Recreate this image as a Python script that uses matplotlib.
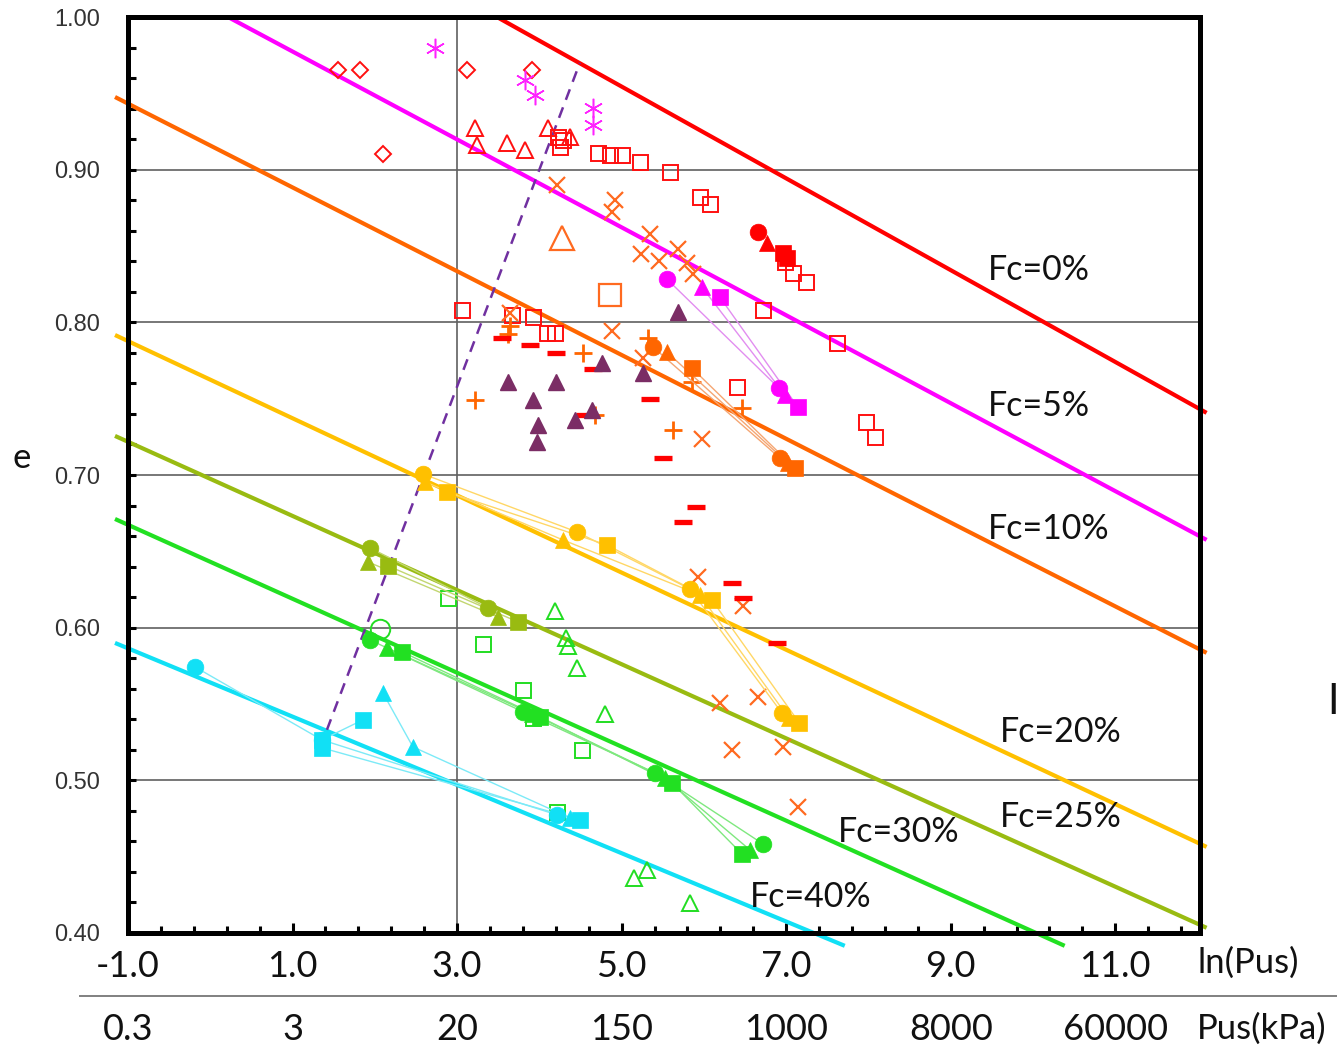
import matplotlib
matplotlib.use('Agg')
import matplotlib.pyplot as plt
from matplotlib.lines import Line2D
from matplotlib.transforms import blended_transform_factory
import numpy as np

# ---------------- data ----------------
# Fc reference lines (end points in ln(Pus), e)
fc_names = ['Fc=0%', 'Fc=5%', 'Fc=10%', 'Fc=20%', 'Fc=25%', 'Fc=30%', 'Fc=40%']
fc_colors = ['#ff0000', '#ff00ff', '#ff6600', '#ffc000', '#99bb11', '#22e022', '#11e0f5']
fc_x0 = [3.484, 0.215, -1.158, -1.158, -1.158, -1.158, -1.158]
fc_y0 = [1.000, 1.000, 0.9476, 0.7917, 0.7256, 0.6712, 0.590]
fc_x1 = [12.11, 12.11, 12.11, 12.11, 12.11, 10.385, 7.712]
fc_y1 = [0.7407, 0.6575, 0.5835, 0.4564, 0.4034, 0.3916, 0.3916]
fc_lab_x = [9.45, 9.45, 9.45, 9.595, 9.595, 7.627, 6.558]
fc_lab_y = [0.8343, 0.7453, 0.6647, 0.5318, 0.4761, 0.4663, 0.4237]

# dashed boundary line
bound_x = [1.418, 4.492]
bound_y = [0.5331, 0.9699]

# open red squares
rsq_x = [3.058, 3.666, 3.921, 4.091, 4.188, 4.225, 4.249, 4.285, 4.711, 4.857, 5.002,
         5.221, 5.586, 5.950, 6.072, 6.983, 7.080, 7.238, 6.716, 7.615, 6.400, 7.967, 8.077]
rsq_y = [0.808, 0.8048, 0.8035, 0.7931, 0.7931, 0.9214, 0.9149, 0.9194, 0.9109, 0.9096, 0.9096,
         0.905, 0.8985, 0.8821, 0.8775, 0.8396, 0.8324, 0.8265, 0.808, 0.7865, 0.7577, 0.7348, 0.7249]
# open red triangles
rtri_x = [3.216, 3.241, 3.605, 3.824, 4.103, 4.371]
rtri_y = [0.9273, 0.9162, 0.9175, 0.9129, 0.9273, 0.9214]
# open red diamonds
rdia_x = [1.552, 1.819, 2.098, 3.119, 3.909]
rdia_y = [0.9653, 0.9653, 0.9103, 0.9653, 0.9653]
# magenta asterisks
mast_x = [2.730, 3.824, 3.945, 4.650, 4.650]
mast_y = [0.9797, 0.9587, 0.9489, 0.9404, 0.9293]
# orange crosses
ox_x = [4.213, 4.917, 4.881, 5.343, 5.233, 5.452, 5.683, 5.792, 5.865, 3.642, 4.881, 5.258,
        5.974, 5.926, 6.473, 6.193, 6.655, 6.339, 6.959, 7.141]
ox_y = [0.890, 0.8802, 0.8723, 0.8579, 0.8448, 0.8402, 0.8481, 0.8389, 0.8317, 0.8062, 0.7944, 0.7767,
        0.7236, 0.6333, 0.6143, 0.5507, 0.5547, 0.520, 0.5219, 0.4826]
# orange plus
op_x = [3.642, 3.617, 4.529, 5.318, 3.216, 4.674, 5.853, 6.460, 5.622]
op_y = [0.7976, 0.7924, 0.780, 0.7898, 0.7492, 0.7394, 0.761, 0.7439, 0.7295]
# red dashes
rd_x = [3.544, 3.885, 4.201, 4.650, 4.553, 5.343, 5.501, 5.902, 5.744, 6.339, 6.473, 6.886]
rd_y = [0.7898, 0.7852, 0.780, 0.7695, 0.7394, 0.7498, 0.7112, 0.6791, 0.6693, 0.6293, 0.6195, 0.590]
# purple filled triangles
pt_x = [3.617, 3.921, 4.201, 3.982, 3.970, 4.431, 4.638, 4.759, 5.258, 5.683]
pt_y = [0.761, 0.7492, 0.761, 0.7328, 0.7217, 0.7361, 0.7426, 0.7734, 0.7669, 0.8068]
# green open triangles
gtri_x = [4.188, 4.322, 4.346, 4.456, 4.796, 5.148, 5.306, 5.829]
gtri_y = [0.611, 0.5933, 0.5881, 0.5737, 0.5436, 0.4361, 0.4414, 0.4198]
# green open squares
gsq_x = [2.888, 3.313, 3.800, 3.921, 4.516, 4.213]
gsq_y = [0.6195, 0.5894, 0.5593, 0.5409, 0.520, 0.4794]
# green open circle
gcirc_x = [2.062]
gcirc_y = [0.5992]
# orange large open square / triangle
obsq_x, obsq_y = [4.857], [0.8179]
obtri_x, obtri_y = [4.273], [0.8553]

# connected (filled) series: circle / triangle / square per Fc group
red_c_x, red_c_y = [6.655], [0.8592]
red_t_x, red_t_y = [6.764], [0.852]
red_s_x, red_s_y = [6.959, 7.007], [0.8455, 0.8422]

mag_c_x, mag_c_y = [5.549, 6.910], [0.8284, 0.7570]
mag_t_x, mag_t_y = [5.974, 6.983], [0.8232, 0.7525]
mag_s_x, mag_s_y = [6.193, 7.141], [0.8166, 0.7446]

ora_c_x, ora_c_y = [5.379, 6.922], [0.7839, 0.7112]
ora_t_x, ora_t_y = [5.549, 7.019], [0.7806, 0.7079]
ora_s_x, ora_s_y = [5.853, 7.104], [0.7701, 0.7046]

yel_c_x, yel_c_y = [2.584, 4.456, 5.829, 6.947], [0.7007, 0.6627, 0.6254, 0.5442]
yel_t_x, yel_t_y = [2.609, 4.285, 5.950, 7.030], [0.6955, 0.6575, 0.6215, 0.5409]
yel_s_x, yel_s_y = [2.876, 4.820, 6.096, 7.160], [0.6889, 0.6542, 0.6182, 0.5376]

oli_c_x, oli_c_y = [1.940, 3.374], [0.6523, 0.6130]
oli_t_x, oli_t_y = [1.916, 3.496], [0.6431, 0.6071]
oli_s_x, oli_s_y = [2.159, 3.739], [0.6405, 0.6038]

grn_c_x, grn_c_y = [1.940, 3.800, 5.403, 6.716], [0.592, 0.5449, 0.5049, 0.4584]
grn_t_x, grn_t_y = [2.147, 3.909, 5.525, 6.558], [0.5868, 0.5436, 0.5016, 0.4545]
grn_s_x, grn_s_y = [2.329, 4.006, 5.610, 6.460], [0.5842, 0.5416, 0.4984, 0.4519]

cya_c_x, cya_c_y = [-0.186, 1.357, 4.213], [0.5743, 0.5265, 0.4774]
cya_sa_x, cya_sa_y = [1.357, 1.855], [0.5265, 0.5396]
cya_sb_x, cya_sb_y = [1.357, 4.492], [0.5213, 0.4741]
cya_t_x, cya_t_y = [2.098, 2.463, 4.371], [0.5573, 0.5219, 0.4754]

xtick_vals = [-1, 1, 3, 5, 7, 9, 11]
xtick_labels = ['-1.0', '1.0', '3.0', '5.0', '7.0', '9.0', '11.0']
pus_labels = ['0.3', '3', '20', '150', '1000', '8000', '60000']
ytick_vals = [0.4, 0.5, 0.6, 0.7, 0.8, 0.9, 1.0]
ytick_labels = ['0.40', '0.50', '0.60', '0.70', '0.80', '0.90', '1.00']

# ---------------- figure ----------------
W, H = 1337, 1046
fig = plt.figure(figsize=(W / 100, H / 100), dpi=100)
fig.patch.set_facecolor('white')
ax = fig.add_axes([128 / W, 1 - 933 / H, (1200 - 128) / W, (933 - 17) / H])
ax.set_xlim(-1.0, 12.03)
ax.set_ylim(0.40, 1.00)

CAL = 'Lato'

# grid
for gy in [0.5, 0.6, 0.7, 0.8, 0.9]:
    ax.axhline(gy, color='#606060', lw=1.2, zorder=1)
ax.axvline(3.0, color='#606060', lw=1.2, zorder=1)

# Fc lines
for i in range(len(fc_names)):
    ax.plot([fc_x0[i], fc_x1[i]], [fc_y0[i], fc_y1[i]], color=fc_colors[i], lw=3.0,
            solid_capstyle='butt', zorder=2, clip_on=False)
    ax.text(fc_lab_x[i], fc_lab_y[i], fc_names[i], fontsize=24.5, family=CAL,
            ha='left', va='center', color='#111111', zorder=6)

# boundary dashed
ax.plot(bound_x, bound_y, color='#7030a0', lw=1.8, dashes=(4.5, 3.2), zorder=3)

# open markers
def pts(x, y, marker, color, ms, mew=1.3, filled=False, z=4):
    ax.plot(x, y, ls='none', marker=marker, ms=ms, mew=mew,
            mec=color, mfc=color if filled else 'none', zorder=z)

pts(rsq_x, rsq_y, 's', '#ff1010', 10.8, 1.4)
pts(rtri_x, rtri_y, '^', '#ff1010', 11, 1.4)
pts(rdia_x, rdia_y, 'D', '#ff1010', 8.0, 1.4)
pts(mast_x, mast_y, (6, 2, 0), '#ff22ff', 14, 1.1)
pts(ox_x, ox_y, 'x', '#ff6a20', 11, 1.6)
pts(op_x, op_y, '+', '#ff6600', 13, 2.0)
pts(rd_x, rd_y, '_', '#ff0000', 13, 3.8)
pts(pt_x, pt_y, '^', '#7b2d65', 12, 1.0, filled=True)
pts(gtri_x, gtri_y, '^', '#22dd22', 11, 1.4)
pts(gsq_x, gsq_y, 's', '#22dd22', 10.8, 1.4)
pts(gcirc_x, gcirc_y, 'o', '#22dd22', 14, 1.4)
pts(obsq_x, obsq_y, 's', '#ff6a20', 16, 1.6)
pts(obtri_x, obtri_y, '^', '#ff6a20', 17, 1.6)

# connected series
def series(x, y, marker, color, lcolor, ms=12):
    ax.plot(x, y, color=lcolor, lw=1.0, zorder=4)
    ax.plot(x, y, ls='none', marker=marker, ms=ms, mfc=color, mec=color, mew=0.5, zorder=5)

groups = [
    ('#ff0000', '#ff8080', [(red_c_x, red_c_y, 'o'), (red_t_x, red_t_y, '^'), (red_s_x, red_s_y, 's')]),
    ('#ff00ff', '#e28ef0', [(mag_c_x, mag_c_y, 'o'), (mag_t_x, mag_t_y, '^'), (mag_s_x, mag_s_y, 's')]),
    ('#ff6600', '#f5a673', [(ora_c_x, ora_c_y, 'o'), (ora_t_x, ora_t_y, '^'), (ora_s_x, ora_s_y, 's')]),
    ('#ffc000', '#ffd766', [(yel_c_x, yel_c_y, 'o'), (yel_t_x, yel_t_y, '^'), (yel_s_x, yel_s_y, 's')]),
    ('#99bb11', '#c2d670', [(oli_c_x, oli_c_y, 'o'), (oli_t_x, oli_t_y, '^'), (oli_s_x, oli_s_y, 's')]),
    ('#22e022', '#7fe87f', [(grn_c_x, grn_c_y, 'o'), (grn_t_x, grn_t_y, '^'), (grn_s_x, grn_s_y, 's')]),
    ('#11e0f5', '#7ceaf7', [(cya_c_x, cya_c_y, 'o'), (cya_sa_x, cya_sa_y, 's'),
                            (cya_sb_x, cya_sb_y, 's'), (cya_t_x, cya_t_y, '^')]),
]
for col, lcol, items in groups:
    for x, y, m in items:
        series(x, y, m, col, lcol)

# spines & ticks
for s in ax.spines.values():
    s.set_linewidth(3.6)
    s.set_color('black')
    s.set_zorder(7)

ax.set_xticks(xtick_vals)
ax.set_xticklabels(xtick_labels, fontsize=26, family=CAL, color='#111111')
ax.set_xticks(np.arange(-1, 12.03, 0.4), minor=True)
ax.set_yticks(ytick_vals)
ax.set_yticklabels(ytick_labels, fontsize=17, family='Liberation Sans', color='#333333')
ax.set_yticks(np.arange(0.40, 1.001, 0.02), minor=True)
ax.tick_params(axis='x', which='major', direction='in', length=7, width=2.2, pad=12, top=False)
ax.tick_params(axis='x', which='minor', direction='in', length=5, width=2.2, top=False)
ax.tick_params(axis='y', which='major', direction='in', length=6, width=2.2, pad=20, right=False)
ax.tick_params(axis='y', which='minor', direction='in', length=6, width=2.2, right=False)

# secondary labels (Pus kPa)
tr = blended_transform_factory(ax.transData, fig.transFigure)
for xv, lab in zip(xtick_vals, pus_labels):
    fig.text(xv, 1 - 1029 / H, lab, transform=tr, fontsize=26, family=CAL,
             ha='center', va='center', color='#111111')

fig.add_artist(Line2D([80 / W, 1.0], [1 - 996 / H, 1 - 996 / H], color='#808080', lw=1.4))

fig.text(1197 / W, 1 - 963 / H, 'ln(Pus)', fontsize=25, family=CAL, ha='left', va='center', color='#111111')
fig.text(1197 / W, 1 - 1029 / H, 'Pus(kPa)', fontsize=25, family=CAL, ha='left', va='center', color='#111111')
fig.text(22 / W, 1 - 458 / H, 'e', fontsize=25, family=CAL, ha='center', va='center', color='#111111')
fig.text(1327 / W, 1 - 702 / H, 'I', fontsize=30, family=CAL, ha='left', va='center', color='#111111')

fig.savefig('out.png', dpi=100)
